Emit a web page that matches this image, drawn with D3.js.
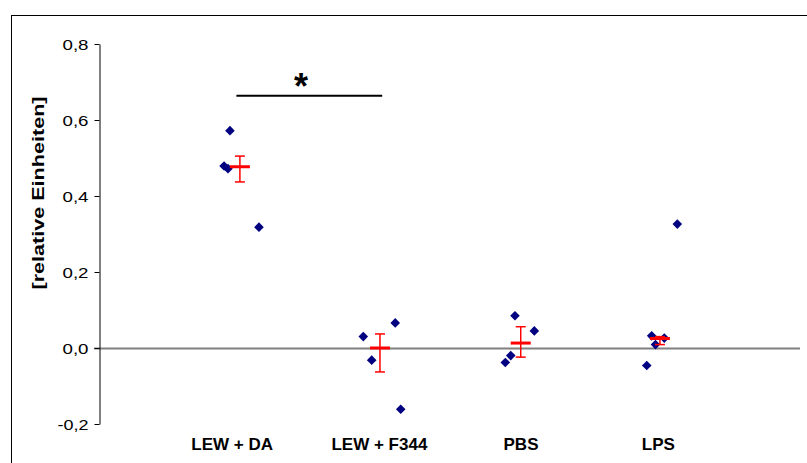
<!DOCTYPE html>
<html>
<head>
<meta charset="utf-8">
<style>
  body { margin: 0; background: #fff; }
  text { font-family: "Liberation Sans", Arial, sans-serif; }
</style>
</head>
<body>
<svg width="807" height="463"></svg>
<script src="https://cdn.jsdelivr.net/npm/d3@7"></script>
<script>
  // groups and category labels
  var categories = ["LEW + DA", "LEW + F344", "PBS", "LPS"];
  var labelX = [0.95, 2.0, 3.01, 3.99];

  // single values (x jittered around group position)
  var pointGroup = [0, 0, 0, 0, 1, 1, 1, 1, 2, 2, 2, 2, 3, 3, 3, 3, 3];
  var pointX = [0.934, 0.892, 0.920, 1.141,
                2.113, 1.885, 1.945, 2.152,
                2.967, 3.105, 2.937, 2.898,
                4.125, 3.942, 4.032, 3.969, 3.907];
  var pointY = [0.572, 0.479, 0.472, 0.318,
                0.066, 0.030, -0.032, -0.161,
                0.085, 0.045, -0.020, -0.038,
                0.326, 0.032, 0.026, 0.009, -0.046];

  // means with error range
  var meanX = [1.005, 2.004, 3.008, 4.001];
  var meanY = [0.477, 0.000, 0.013, 0.025];
  var errHigh = [0.505, 0.037, 0.056, 0.030];
  var errLow = [0.437, -0.063, -0.024, 0.009];

  // y axis ticks
  var tickValues = [-0.2, 0, 0.2, 0.4, 0.6, 0.8];
  var tickLabels = ["-0,2", "0,0", "0,2", "0,4", "0,6", "0,8"];

  // significance bar between group 1 and 2
  var sigFrom = 0.98, sigTo = 2.02, sigY = 0.664;

  var svg = d3.select("svg");

  svg.append("rect")
      .attr("x", 11.5).attr("y", 15.5)
      .attr("width", 820).attr("height", 480)
      .attr("fill", "none").attr("stroke", "#000");

  var x = d3.scaleLinear().domain([0, 5]).range([99, 800]);
  var y = d3.scaleLinear().domain([-0.2, 0.8]).range([424, 44]);

  // zero line
  svg.append("line")
      .attr("x1", 94).attr("x2", x(5))
      .attr("y1", y(0) + 0.5).attr("y2", y(0) + 0.5)
      .attr("stroke", "#808080").attr("stroke-width", 2);

  var yAxis = svg.append("g")
      .attr("transform", "translate(99.5,0)")
      .call(d3.axisLeft(y).tickValues(tickValues).tickSize(5).tickSizeOuter(0)
        .tickFormat(function(d, i) { return tickLabels[i]; }));
  yAxis.select(".domain").attr("stroke", "#000");
  yAxis.selectAll(".tick line").attr("stroke", "#000");
  yAxis.selectAll(".tick text")
      .attr("x", -11)
      .attr("dy", "0.36em")
      .attr("font-family", "Liberation Sans, Arial, sans-serif")
      .attr("font-size", 14)
      .attr("textLength", function(d, i) { return tickLabels[i].length > 3 ? 31 : 26; })
      .attr("lengthAdjust", "spacingAndGlyphs")
      .attr("fill", "#000");

  svg.append("text")
      .attr("transform", "translate(44,193) rotate(-90)")
      .attr("text-anchor", "middle")
      .attr("font-size", 16.5)
      .attr("font-weight", "bold")
      .attr("textLength", 193)
      .attr("lengthAdjust", "spacingAndGlyphs")
      .text("[relative Einheiten]");

  // category labels
  svg.selectAll(".cat")
      .data(categories)
      .enter().append("text")
      .attr("class", "cat")
      .attr("x", function(d, i) { return x(labelX[i]); })
      .attr("y", 450)
      .attr("text-anchor", "middle")
      .attr("font-size", 17)
      .attr("font-weight", "bold")
      .text(function(d) { return d; });

  // points
  var diamond = d3.symbol().type(d3.symbolSquare).size(46);
  svg.selectAll(".pt")
      .data(pointY)
      .enter().append("path")
      .attr("class", "pt")
      .attr("d", diamond)
      .attr("transform", function(d, i) {
        return "translate(" + x(pointX[i]) + "," + y(d) + ") rotate(45)";
      })
      .attr("fill", "#000080");

  // error bars and means
  var eb = svg.selectAll(".eb")
      .data(meanY)
      .enter().append("g")
      .attr("class", "eb")
      .attr("stroke", "#ff0000");
  eb.append("line")
      .attr("x1", function(d, i) { return x(meanX[i]); })
      .attr("x2", function(d, i) { return x(meanX[i]); })
      .attr("y1", function(d, i) { return y(errHigh[i]); })
      .attr("y2", function(d, i) { return y(errLow[i]); })
      .attr("stroke-width", 1.5);
  eb.append("line")
      .attr("x1", function(d, i) { return x(meanX[i]) - 5; })
      .attr("x2", function(d, i) { return x(meanX[i]) + 5; })
      .attr("y1", function(d, i) { return y(errHigh[i]); })
      .attr("y2", function(d, i) { return y(errHigh[i]); })
      .attr("stroke-width", 1.5);
  eb.append("line")
      .attr("x1", function(d, i) { return x(meanX[i]) - 5; })
      .attr("x2", function(d, i) { return x(meanX[i]) + 5; })
      .attr("y1", function(d, i) { return y(errLow[i]); })
      .attr("y2", function(d, i) { return y(errLow[i]); })
      .attr("stroke-width", 1.5);
  eb.append("line")
      .attr("x1", function(d, i) { return x(meanX[i]) - 10; })
      .attr("x2", function(d, i) { return x(meanX[i]) + 10; })
      .attr("y1", function(d) { return y(d); })
      .attr("y2", function(d) { return y(d); })
      .attr("stroke-width", 3);

  // significance
  svg.append("line")
      .attr("x1", x(sigFrom)).attr("x2", x(sigTo))
      .attr("y1", y(sigY)).attr("y2", y(sigY))
      .attr("stroke", "#000").attr("stroke-width", 2);
  svg.append("text")
      .attr("x", x(1.44))
      .attr("y", 99)
      .attr("text-anchor", "middle")
      .attr("font-size", 36)
      .attr("font-weight", "bold")
      .text("*");
</script>
</body>
</html>
